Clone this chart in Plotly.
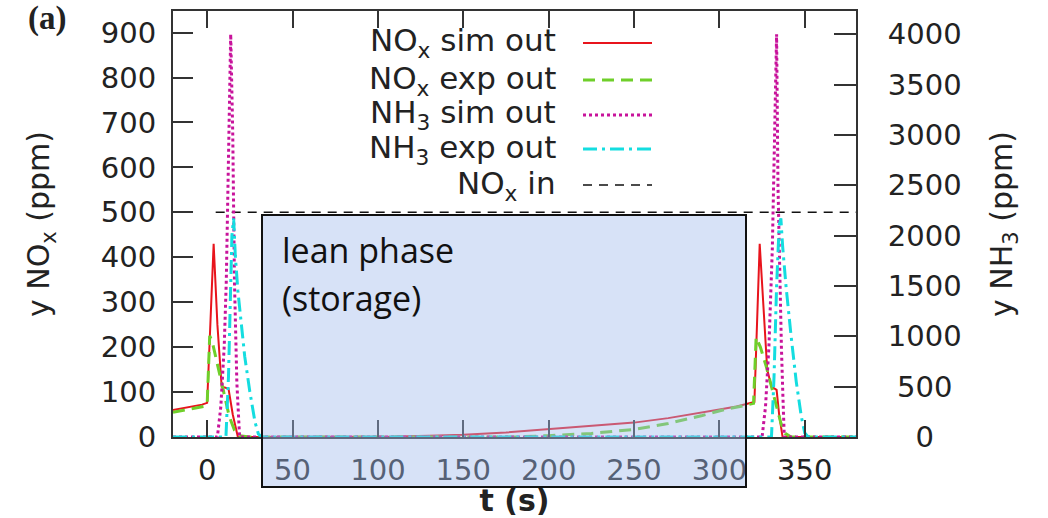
import plotly.graph_objects as go

# ---------------- data ----------------
t_nox_sim = [-20, -10, -3, 0, 3.8, 6, 8.5, 12.5, 15, 18, 40, 80, 110, 130, 150, 175, 200,
             225, 250, 270, 290, 300, 310, 316, 320.5, 323.6, 326, 328, 330.5, 333.5, 335, 337, 350, 380]
nox_sim = [60, 67, 72, 76, 430, 250, 112, 108, 50, 0, 0, 0, 1, 3, 5, 10, 17,
           24, 32, 42, 54, 61, 68, 73, 78, 430, 280, 150, 112, 105, 50, 0, 0, 0]

t_nox_exp = [-20, -10, -2, 0, 1.5, 3, 5.5, 8.4, 11, 13, 16, 19, 25, 100, 180, 200, 225, 250,
             270, 290, 305, 315, 320, 321.5, 324, 327.5, 332, 336, 338.5, 342, 380]
nox_exp = [55, 62, 68, 72, 225, 212, 170, 120, 75, 45, 15, 3, 0, 0, 0, 3, 8, 17,
           30, 48, 63, 70, 75, 222, 200, 156, 89, 31, 8, 0, 0]

t_nh3_sim = [-20, 6, 8, 10, 11.2, 12.5, 13.8, 15, 16, 17.4, 19, 100, 200, 325, 327, 329, 331,
             332.5, 333.5, 334.3, 335, 336.3, 337.2, 338, 380]
nh3_sim = [0, 0, 300, 900, 1540, 2800, 4000, 3000, 1540, 540, 0, 0, 0, 0, 300, 900, 1870,
           3000, 4000, 2500, 1870, 900, 400, 0, 0]

t_nh3_exp = [-20, 11, 12.5, 13.5, 14.5, 15.5, 16.5, 18, 20, 22, 25, 28, 30, 32, 100, 200,
             330.5, 332, 333.5, 335, 336, 337, 339, 342, 345, 348, 350, 352, 380]
nh3_exp = [0, 0, 600, 1400, 2000, 2170, 1800, 1450, 1100, 800, 450, 150, 30, 0, 0, 0,
           0, 600, 1500, 2100, 2170, 1900, 1500, 1000, 550, 200, 40, 0, 0]

t_nox_in = [5, 380]
nox_in = [500, 500]

x_ticks = [0, 50, 100, 150, 200, 250, 300, 350]
y1_ticks = [0, 100, 200, 300, 400, 500, 600, 700, 800, 900]
y2_ticks = [0, 500, 1000, 1500, 2000, 2500, 3000, 3500, 4000]
y2_ticktext = ["\u2007\u00a00", "\u00a0500", "1000", "1500", "2000", "2500", "3000", "3500", "4000"]

legend_labels = ["NO<sub>x</sub> sim out", "NO<sub>x</sub> exp out", "NH<sub>3</sub> sim out",
                 "NH<sub>3</sub> exp out", "NO<sub>x</sub> in"]

# ---------------- styles ----------------
C_RED = "#e8141c"
C_GREEN = "#6fcf2a"
C_MAG = "#c8139b"
C_CYAN = "#14dde0"
C_BLACK = "#111111"
styles = [
    dict(color=C_RED, width=2, dash="solid"),
    dict(color=C_GREEN, width=3, dash="12px,7px"),
    dict(color=C_MAG, width=3, dash="3px,3px"),
    dict(color=C_CYAN, width=3, dash="14px,5px,3px,5px"),
    dict(color=C_BLACK, width=1.5, dash="9px,7px"),
]

fig = go.Figure()
fig.add_trace(go.Scatter(x=t_nox_sim, y=nox_sim, mode="lines", line=styles[0],
                         name="NOx sim out", showlegend=False))
fig.add_trace(go.Scatter(x=t_nox_exp, y=nox_exp, mode="lines", line=styles[1],
                         name="NOx exp out", showlegend=False))
fig.add_trace(go.Scatter(x=t_nox_in, y=nox_in, mode="lines", line=styles[4],
                         name="NOx in", showlegend=False))
fig.add_trace(go.Scatter(x=t_nh3_sim, y=nh3_sim, mode="lines", line=styles[2],
                         name="NH3 sim out", yaxis="y2", showlegend=False))
fig.add_trace(go.Scatter(x=t_nh3_exp, y=nh3_exp, mode="lines", line=styles[3],
                         name="NH3 exp out", yaxis="y2", showlegend=False))

TICKFONT = dict(family="DejaVu Sans", size=29, color="#222222")
TITLEFONT = dict(family="DejaVu Sans", size=30, color="#222222")
AXCOL = "#333333"

fig.update_layout(
    width=1048, height=518,
    margin=dict(l=173, r=192, t=11, b=81, autoexpand=False),
    paper_bgcolor="white", plot_bgcolor="white",
    xaxis=dict(range=[-20, 380], tickvals=x_ticks, ticks="inside", ticklen=17, tickwidth=2,
               tickcolor=AXCOL, showline=True, linecolor=AXCOL, linewidth=2, mirror="ticks",
               showgrid=False, zeroline=False, tickfont=TICKFONT, ticklabelstandoff=6,
               automargin=False,
               title=dict(text="<b>t (s)</b>", font=TITLEFONT, standoff=12)),
    yaxis=dict(range=[0, 948], tickvals=y1_ticks, ticks="inside", ticklen=20, tickwidth=2,
               tickcolor=AXCOL, showline=True, linecolor=AXCOL, linewidth=2,
               showgrid=False, zeroline=False, tickfont=TICKFONT, ticklabelstandoff=9,
               automargin=False,
               title=dict(text="y NO<sub>x</sub> (ppm)", font=TITLEFONT, standoff=42)),
    yaxis2=dict(range=[0, 4230], tickvals=y2_ticks, ticktext=y2_ticktext, overlaying="y", side="right",
                ticks="inside", ticklen=22, tickwidth=2, tickcolor=AXCOL, showline=True,
                linecolor=AXCOL, linewidth=2, showgrid=False, zeroline=False, tickfont=TICKFONT,
                ticklabelstandoff=24, automargin=False,
                title=dict(text="y NH<sub>3</sub> (ppm)", font=TITLEFONT, standoff=30)),
)

# manual gnuplot-style legend (text right-aligned, sample to its right)
W, H = 683.0, 426.0
def px(x):
    return (x - 173) / W
def py(y):
    return (437 - y) / H

rows = [43, 80, 115, 149, 185]
for lab, st, ry in zip(legend_labels, styles, rows):
    fig.add_annotation(x=px(558), y=py(ry), xref="paper", yref="paper", text=lab,
                       showarrow=False, xanchor="right", yanchor="middle",
                       font=dict(family="DejaVu Sans", size=31, color="#222"))
    fig.add_shape(type="line", xref="paper", yref="paper", x0=px(583), x1=px(652),
                  y0=py(ry), y1=py(ry), line=st)

# lean phase box
fig.add_shape(type="rect", xref="paper", yref="paper", x0=px(262), x1=px(746),
              y0=py(487), y1=py(215), fillcolor="rgba(160,185,235,0.42)",
              line=dict(color="#111111", width=2), layer="above")
fig.add_annotation(x=px(280), y=py(250), xref="paper", yref="paper", text="lean phase",
                   showarrow=False, xanchor="left", yanchor="middle",
                   font=dict(family="Open Sans", size=34, color="#111"))
fig.add_annotation(x=px(280), y=py(298), xref="paper", yref="paper", text="(storage)",
                   showarrow=False, xanchor="left", yanchor="middle",
                   font=dict(family="Open Sans", size=34, color="#111"))

fig.add_annotation(x=px(47), y=py(18), xref="paper", yref="paper", text="<b>(a)</b>",
                   showarrow=False, xanchor="center", yanchor="middle",
                   font=dict(family="Liberation Serif", size=33, color="#222"))

fig.write_html("out.html")
